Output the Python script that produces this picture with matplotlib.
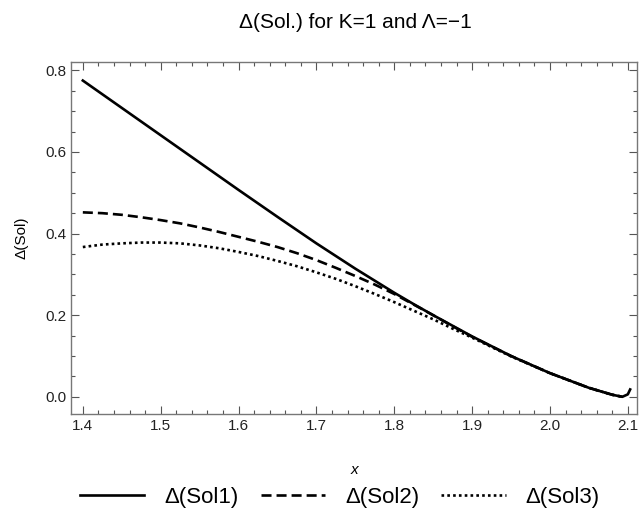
import numpy as np
import matplotlib
matplotlib.use("Agg")
import matplotlib.pyplot as plt
from matplotlib.ticker import MultipleLocator

plt.rcParams["font.family"] = ["Liberation Sans", "DejaVu Sans"]

# values
x1 = [1.40, 1.45, 1.50, 1.55, 1.60, 1.65, 1.70, 1.75, 1.80, 1.825, 1.85, 1.875, 1.90, 1.95, 2.00, 2.05, 2.08, 2.093, 2.100, 2.103]
sol1 = [0.775, 0.708, 0.641, 0.574, 0.507, 0.441, 0.376, 0.314, 0.255, 0.227, 0.200, 0.174, 0.148, 0.100, 0.058, 0.022, 0.005, 0.0, 0.006, 0.018]

x2 = [1.40, 1.425, 1.45, 1.475, 1.50, 1.525, 1.55, 1.575, 1.60, 1.625, 1.65, 1.675, 1.70, 1.725, 1.75, 1.775,
      1.80, 1.825, 1.85, 1.875, 1.90, 1.95, 2.00, 2.05, 2.08, 2.093]
sol2 = [0.452, 0.450, 0.446, 0.440, 0.433, 0.425, 0.415, 0.404, 0.392, 0.380, 0.367, 0.352, 0.335, 0.316, 0.296, 0.275,
        0.252, 0.226, 0.200, 0.173, 0.147, 0.100, 0.058, 0.022, 0.005, 0.0]

x3 = [1.40, 1.425, 1.45, 1.475, 1.50, 1.525, 1.55, 1.575, 1.60, 1.625, 1.65, 1.675, 1.70, 1.725, 1.75, 1.775,
      1.80, 1.825, 1.85, 1.875, 1.90, 1.95, 2.00, 2.05, 2.08, 2.093]
sol3 = [0.367, 0.373, 0.376, 0.378, 0.378, 0.376, 0.371, 0.364, 0.355, 0.345, 0.333, 0.320, 0.305, 0.289, 0.271, 0.252,
        0.232, 0.211, 0.190, 0.167, 0.145, 0.099, 0.058, 0.022, 0.005, 0.0]

labels = ["Δ(Sol1)", "Δ(Sol2)", "Δ(Sol3)"]

fig = plt.figure(figsize=(6.41, 5.14), dpi=100)
ax = fig.add_axes([0.111, 0.195, 0.883, 0.684])

ax.plot(x1, sol1, color="black", lw=1.9, ls="-", label=labels[0])
ax.plot(x2, sol2, color="black", lw=1.9, ls=(0, (3.8, 1.9)), label=labels[1])
ax.plot(x3, sol3, color="black", lw=1.9, ls=(0, (1, 1.2)), label=labels[2])

ax.set_xlim(1.385, 2.112)
ax.set_ylim(-0.0416, 0.82)
ax.xaxis.set_major_locator(MultipleLocator(0.1))
ax.xaxis.set_minor_locator(MultipleLocator(0.02))
ax.yaxis.set_major_locator(MultipleLocator(0.2))
ax.yaxis.set_minor_locator(MultipleLocator(0.05))
ax.xaxis.set_major_formatter(plt.FormatStrFormatter("%.1f"))
ax.yaxis.set_major_formatter(plt.FormatStrFormatter("%.1f"))
ax.tick_params(which="both", direction="in", top=True, right=True, labelsize=11, colors="#555555", labelcolor="#222222")
ax.tick_params(which="major", length=6, width=0.8)
ax.tick_params(which="minor", length=3, width=0.8)
for s in ax.spines.values():
    s.set_color("#777777")
    s.set_linewidth(1.0)

ax.set_xlabel("x", style="italic", fontsize=11, labelpad=22)
ax.set_ylabel("Δ(Sol)", fontsize=11, labelpad=12)
fig.suptitle("Δ(Sol.) for K=1 and Λ=−1", x=0.555, y=0.975, fontsize=15)

fig.legend(loc="center", bbox_to_anchor=(0.53, 0.033), ncol=3, frameon=False,
           fontsize=16, handlelength=2.9, columnspacing=1.0, handletextpad=0.9)

fig.savefig("out.png", dpi=100)
